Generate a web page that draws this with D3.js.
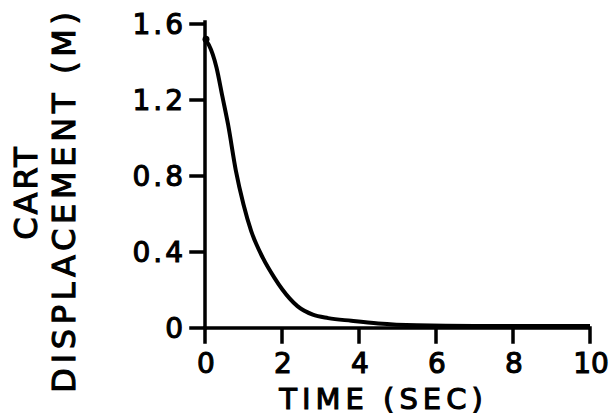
<!DOCTYPE html>
<html>
<head>
<meta charset="utf-8">
<script src="https://cdn.jsdelivr.net/npm/d3@7"></script>
<style>
  html, body { margin: 0; padding: 0; background: #fff; }
  svg text { font-family: "DejaVu Sans", sans-serif; fill: #000; stroke: #000; stroke-width: 1.1px; }
</style>
</head>
<body>
<svg id="chart" width="611" height="419"></svg>
<script>
// Data
const timeSec = [0, 0.1, 0.3, 0.45, 0.6, 0.8, 1.0, 1.2, 1.5, 1.8, 2.0, 2.4, 2.8, 3.2, 3.8, 4.5, 5.5, 7, 8.5, 10];
const displacement = [1.52, 1.49, 1.37, 1.22, 1.07, 0.83, 0.65, 0.51, 0.37, 0.265, 0.205, 0.115, 0.07, 0.052, 0.038, 0.024, 0.014, 0.01, 0.01, 0.01];
const xTicks = [0, 2, 4, 6, 8, 10];
const xTickLabels = ["0", "2", "4", "6", "8", "10"];
const yTicks = [0, 0.4, 0.8, 1.2, 1.6];
const yTickLabels = ["0", "0.4", "0.8", "1.2", "1.6"];

const margin = { left: 205, top: 24, right: 21, bottom: 91 };
const W = 611, H = 419;
const w = W - margin.left - margin.right;
const h = H - margin.top - margin.bottom;
const TICK = 14;

const svg = d3.select("#chart");
const g = svg.append("g").attr("transform", `translate(${margin.left},${margin.top})`);

const x = d3.scaleLinear().domain([0, 10]).range([0, w]);
const y = d3.scaleLinear().domain([0, 1.6]).range([h, 0]);

// X axis: baseline + ticks in one path
let xd = `M${x(0)},${y(0)}H${x(10)}`;
xTicks.forEach(d => { xd += `M${x(d)},${y(0)}V${y(0) + TICK}`; });
g.append("path").attr("d", xd).attr("fill", "none")
  .attr("stroke", "#000").attr("stroke-width", 3.5).attr("stroke-linecap", "square");

// Y axis: vertical line + ticks in one path
let yd = `M${x(0)},${y(0)}V${y(1.6) - 2}`;
yTicks.forEach(d => { yd += `M${x(0) - TICK},${y(d)}H${x(0)}`; });
g.append("path").attr("d", yd).attr("fill", "none")
  .attr("stroke", "#000").attr("stroke-width", 3.5).attr("stroke-linecap", "square");

// Tick labels
g.selectAll("text.xlab").data(xTicks).enter().append("text").attr("class", "xlab")
  .attr("x", d => x(d) + 1).attr("y", y(0) + 45)
  .attr("text-anchor", "middle").attr("font-size", 28)
  .text((d, i) => xTickLabels[i]);
g.selectAll("text.ylab").data(yTicks).enter().append("text").attr("class", "ylab")
  .attr("x", x(0) - 19).attr("y", d => y(d) + 10)
  .attr("text-anchor", "end").attr("font-size", 28).attr("letter-spacing", 3)
  .text((d, i) => yTickLabels[i]);

// Curve
const data = timeSec.map((t, i) => ({ t, v: displacement[i] }));
g.append("path")
  .datum(data)
  .attr("fill", "none")
  .attr("stroke", "#000")
  .attr("stroke-width", 4)
  .attr("stroke-linejoin", "round")
  .attr("d", d3.line().x(d => x(d.t)).y(d => y(d.v)).curve(d3.curveMonotoneX));

// Start dot
g.append("circle").attr("cx", x(0) + 1).attr("cy", y(1.52)).attr("r", 3.5).attr("fill", "#000");

// X title
svg.append("text")
  .attr("x", margin.left + x(5) - 14)
  .attr("y", 409)
  .attr("text-anchor", "middle")
  .attr("font-size", 29)
  .attr("letter-spacing", 5)
  .text("TIME (SEC)");

// Y title (two lines, rotated)
svg.append("text")
  .attr("transform", "translate(37,192) rotate(-90)")
  .attr("text-anchor", "middle")
  .attr("font-size", 32)
  .attr("letter-spacing", 3)
  .text("CART");
svg.append("text")
  .attr("transform", "translate(75,200) rotate(-90)")
  .attr("text-anchor", "middle")
  .attr("font-size", 32)
  .attr("letter-spacing", 4.7)
  .text("DISPLACEMENT (M)");
</script>
</body>
</html>
